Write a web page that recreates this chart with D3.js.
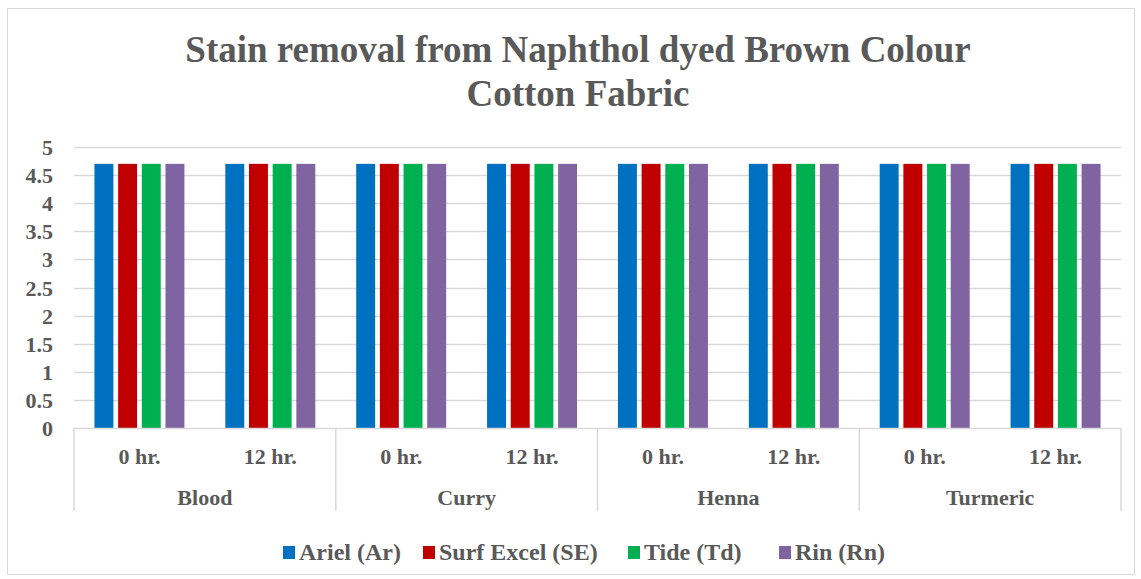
<!DOCTYPE html>
<html>
<head>
<meta charset="utf-8">
<script src="https://cdn.jsdelivr.net/npm/d3@7"></script>
<style>
  body { margin: 0; background: #fff; }
  text { font-family: "Liberation Serif", "Times New Roman", serif; font-weight: bold; fill: #595959; }
</style>
</head>
<body>
<svg id="chart" width="1141" height="579"></svg>
<script>
// Chart data
var stains = ["Blood", "Curry", "Henna", "Turmeric"];
var times = ["0 hr.", "12 hr."];
var seriesNames = ["Ariel (Ar)", "Surf Excel (SE)", "Tide (Td)", "Rin (Rn)"];
var seriesColors = ["#0070C0", "#C00000", "#00B050", "#8064A2"];
// one value per stain/time pair, in order Blood 0, Blood 12, Curry 0, ...
var ariel = [4.7, 4.7, 4.7, 4.7, 4.7, 4.7, 4.7, 4.7];
var surfExcel = [4.7, 4.7, 4.7, 4.7, 4.7, 4.7, 4.7, 4.7];
var tide = [4.7, 4.7, 4.7, 4.7, 4.7, 4.7, 4.7, 4.7];
var rin = [4.7, 4.7, 4.7, 4.7, 4.7, 4.7, 4.7, 4.7];
var yTicks = [0, 0.5, 1, 1.5, 2, 2.5, 3, 3.5, 4, 4.5, 5];

var svg = d3.select("#chart");
var margin = {top: 147, left: 74, right: 20, bottom: 151};
var svgWidth = +svg.attr("width");
var svgHeight = +svg.attr("height");
var plotRight = svgWidth - margin.right;
var plotBottom = svgHeight - margin.bottom;

// outer chart border
svg.append("rect")
    .attr("x", 7.5).attr("y", 8.5)
    .attr("width", 1127).attr("height", 566)
    .attr("fill", "none")
    .attr("stroke", "#D9D9D9");

// title
svg.append("text")
    .attr("x", 578).attr("y", 62)
    .attr("text-anchor", "middle")
    .style("font-size", "37px")
    .text("Stain removal from Naphthol dyed Brown Colour");
svg.append("text")
    .attr("x", 578).attr("y", 106)
    .attr("text-anchor", "middle")
    .style("font-size", "37px")
    .text("Cotton Fabric");

// build rows of categories
var cats = [];
stains.forEach(function(s) {
    times.forEach(function(t) {
        cats.push({stain: s, time: t, key: s + "|" + t});
    });
});
var values = [ariel, surfExcel, tide, rin];

var x0 = d3.scaleBand()
    .domain(cats.map(function(d) { return d.key; }))
    .range([margin.left, plotRight])
    .paddingInner(0.3125)
    .paddingOuter(0.15625);
var x1 = d3.scaleBand()
    .domain(seriesNames)
    .range([0, x0.bandwidth()])
    .paddingInner(0.2);
var y = d3.scaleLinear().domain([0, 5]).range([plotBottom, margin.top]);

// gridlines
svg.append("g").selectAll("line")
    .data(yTicks.filter(function(t) { return t > 0; }))
    .enter().append("line")
    .attr("x1", margin.left).attr("x2", plotRight)
    .attr("y1", function(d) { return Math.round(y(d)) + 0.5; })
    .attr("y2", function(d) { return Math.round(y(d)) + 0.5; })
    .attr("stroke", "#D9D9D9")
    .attr("stroke-width", 1.5);

// y tick labels
svg.append("g").selectAll("text")
    .data(yTicks)
    .enter().append("text")
    .attr("x", 53)
    .attr("y", function(d) { return y(d) + 8; })
    .attr("text-anchor", "end")
    .style("font-size", "22px")
    .text(function(d) { return d; });

// bars
var groups = svg.append("g").selectAll("g")
    .data(cats)
    .enter().append("g")
    .attr("transform", function(d) { return "translate(" + x0(d.key) + ",0)"; });
groups.selectAll("rect")
    .data(function(d, i) {
        return seriesNames.map(function(n, j) { return {name: n, value: values[j][i], color: seriesColors[j]}; });
    })
    .enter().append("rect")
    .attr("x", function(d) { return x1(d.name); })
    .attr("width", x1.bandwidth())
    .attr("y", function(d) { return y(d.value); })
    .attr("height", function(d) { return y(0) - y(d.value); })
    .attr("fill", function(d) { return d.color; });

// category axis line and separators
var axisG = svg.append("g").attr("stroke", "#D9D9D9").attr("stroke-width", 1.5);
axisG.append("line")
    .attr("x1", margin.left).attr("x2", plotRight)
    .attr("y1", plotBottom + 0.5).attr("y2", plotBottom + 0.5);
var step = x0.step();
var bounds = d3.range(stains.length + 1).map(function(i) { return margin.left + i * step * times.length; });
axisG.selectAll(".sep")
    .data(bounds)
    .enter().append("line")
    .attr("class", "sep")
    .attr("x1", function(d) { return d; }).attr("x2", function(d) { return d; })
    .attr("y1", plotBottom).attr("y2", 511);

// sub-category labels
svg.append("g").selectAll("text")
    .data(cats)
    .enter().append("text")
    .attr("x", function(d) { return x0(d.key) + x0.bandwidth() / 2; })
    .attr("y", 464)
    .attr("text-anchor", "middle")
    .style("font-size", "22px")
    .text(function(d) { return d.time; });

// group labels
svg.append("g").selectAll("text")
    .data(stains)
    .enter().append("text")
    .attr("x", function(d, i) { return (bounds[i] + bounds[i + 1]) / 2; })
    .attr("y", 505)
    .attr("text-anchor", "middle")
    .style("font-size", "22px")
    .text(function(d) { return d; });

// legend
var legendX = [283, 423, 628, 779];
var legend = svg.append("g").selectAll("g")
    .data(seriesNames)
    .enter().append("g")
    .attr("transform", function(d, i) { return "translate(" + legendX[i] + ",546)"; });
legend.append("rect")
    .attr("width", 12).attr("height", 13)
    .attr("fill", function(d, i) { return seriesColors[i]; });
legend.append("text")
    .attr("x", 16).attr("y", 14)
    .style("font-size", "24px")
    .text(function(d) { return d; });
</script>
</body>
</html>
